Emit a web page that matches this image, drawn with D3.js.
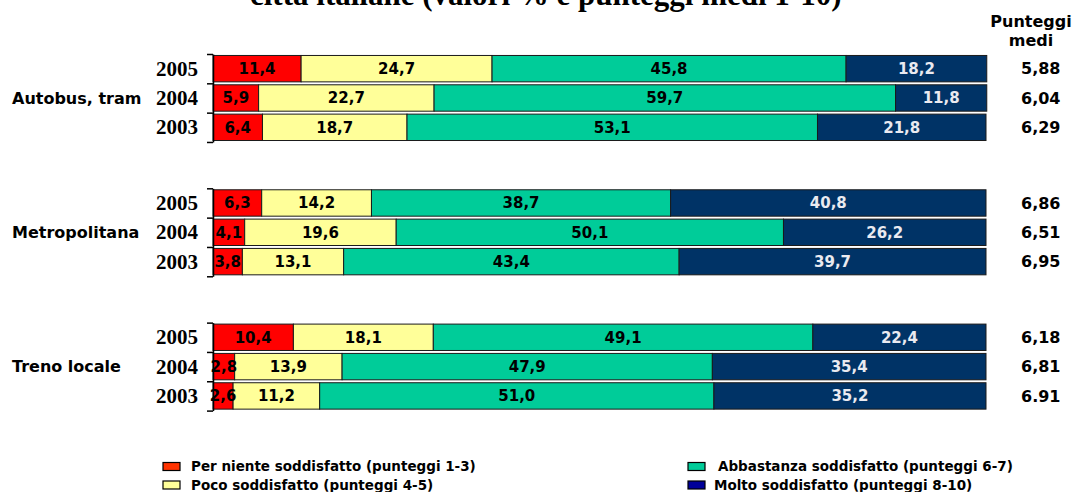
<!DOCTYPE html>
<html>
<head>
<meta charset="utf-8">
<script src="https://cdn.jsdelivr.net/npm/d3@7"></script>
<style>
  html, body { margin: 0; padding: 0; background: #fff; }
  svg { display: block; }
</style>
</head>
<body>
<svg id="chart" width="1074" height="492"></svg>
<script>
// ---- data ----
const titleText = "città italiane (valori % e punteggi medi 1-10)";
const groups = ["Autobus, tram", "Metropolitana", "Treno locale"];
const years = ["2005", "2004", "2003"];
const perNiente   = [11.4, 5.9, 6.4,  6.3, 4.1, 3.8,  10.4, 2.8, 2.6];
const poco        = [24.7, 22.7, 18.7, 14.2, 19.6, 13.1, 18.1, 13.9, 11.2];
const abbastanza  = [45.8, 59.7, 53.1, 38.7, 50.1, 43.4, 49.1, 47.9, 51.0];
const molto       = [18.2, 11.8, 21.8, 40.8, 26.2, 39.7, 22.4, 35.4, 35.2];
const scoreLabels = ["5,88", "6,04", "6,29", "6,86", "6,51", "6,95", "6,18", "6,81", "6.91"];
const seriesKeys  = ["perNiente", "poco", "abbastanza", "molto"];
const legendLabels = [
  "Per niente soddisfatto (punteggi 1-3)",
  "Poco soddisfatto (punteggi 4-5)",
  "Abbastanza soddisfatto (punteggi 6-7)",
  "Molto soddisfatto (punteggi 8-10)"
];
const scoreHeader = ["Punteggi", "medi"];

// ---- styles ----
const barColors    = {perNiente: "#ff0000", poco: "#ffff99", abbastanza: "#00cc99", molto: "#003366"};
const legendColors = {perNiente: "#ff3300", poco: "#ffff99", abbastanza: "#00cc99", molto: "#000099"};
const labelColors  = {perNiente: "#000", poco: "#000", abbastanza: "#000", molto: "#eaeaf0"};
const sans = "'DejaVu Sans', Verdana, sans-serif";
const serif = "'Liberation Serif', 'Times New Roman', serif";

// rows
const rows = [];
groups.forEach((g, gi) => years.forEach((y, yi) => {
  const i = gi * 3 + yi;
  rows.push({group: g, year: y, perNiente: perNiente[i], poco: poco[i],
             abbastanza: abbastanza[i], molto: molto[i], score: scoreLabels[i]});
}));

const svg = d3.select("#chart");

const x = d3.scaleLinear().domain([0, 100]).range([213, 986]);
const yGroup = d3.scaleBand().domain(groups).range([54, 410.6]).paddingInner(0.345).paddingOuter(0);
const yYear = d3.scaleBand().domain(years).range([0, yGroup.bandwidth()]).paddingInner(0.1).paddingOuter(0.05);
const rowY = d => yGroup(d.group) + yYear(d.year);
const rowC = d => rowY(d) + yYear.bandwidth() / 2;

// title (only its lower part is visible in the frame, as in the reference)
svg.append("text")
  .attr("x", 250).attr("y", 5)
  .attr("font-family", serif).attr("font-weight", "bold").attr("font-size", 31)
  .attr("fill", "#000")
  .text(titleText);

// stacked bars
const stack = d3.stack().keys(seriesKeys);
const stacked = stack(rows);

const layers = svg.append("g").selectAll("g").data(stacked).join("g")
  .attr("fill", s => barColors[s.key]);

layers.selectAll("rect").data(s => s.map(p => ({p, key: s.key}))).join("rect")
  .attr("x", d => x(d.p[0]))
  .attr("width", d => x(d.p[1]) - x(d.p[0]))
  .attr("y", d => rowY(d.p.data))
  .attr("height", yYear.bandwidth())
  .attr("stroke", "#1a1a1a").attr("stroke-width", 1);

// value labels
const fmt = v => d3.format(".1f")(v).replace(".", ",");
svg.append("g").selectAll("g").data(stacked).join("g")
  .selectAll("text").data(s => s.map(p => ({p, key: s.key}))).join("text")
  .attr("x", d => (x(d.p[0]) + x(d.p[1])) / 2)
  .attr("y", d => rowC(d.p.data))
  .attr("dy", "0.36em")
  .attr("text-anchor", "middle")
  .attr("font-family", sans).attr("font-weight", "bold").attr("font-size", 15)
  .attr("fill", d => labelColors[d.key])
  .text(d => fmt(d.p[1] - d.p[0]));

// group axes (bracket with ticks)
groups.forEach(g => {
  const ax = d3.axisLeft(
      d3.scaleLinear().domain([0, 3]).range([yGroup(g), yGroup(g) + yGroup.bandwidth()]))
    .tickValues([0, 1, 2, 3]).tickSize(6).tickSizeOuter(0).tickFormat("");
  const gg = svg.append("g").attr("transform", `translate(${x(0)},0)`).call(ax);
  gg.selectAll("path, line").attr("stroke", "#000").attr("stroke-width", 1.5);
});

// year labels
svg.append("g").selectAll("text").data(rows).join("text")
  .attr("x", 198).attr("y", d => rowC(d)).attr("dy", "0.34em")
  .attr("text-anchor", "end")
  .attr("font-family", serif).attr("font-weight", "bold").attr("font-size", 21)
  .attr("fill", "#000")
  .text(d => d.year);

// group labels
svg.append("g").selectAll("text").data(groups).join("text")
  .attr("x", 12)
  .attr("y", g => yGroup(g) + yYear("2004") + yYear.bandwidth() / 2)
  .attr("dy", "0.36em")
  .attr("font-family", sans).attr("font-weight", "bold").attr("font-size", 16)
  .attr("fill", "#000")
  .text(g => g);

// score header
svg.append("g").selectAll("text").data(scoreHeader).join("text")
  .attr("x", 1031).attr("y", (d, i) => 27 + i * 18.5)
  .attr("text-anchor", "middle")
  .attr("font-family", sans).attr("font-weight", "bold").attr("font-size", 16)
  .attr("fill", "#000")
  .text(d => d);

// scores
svg.append("g").selectAll("text").data(rows).join("text")
  .attr("x", 1021).attr("y", d => rowC(d)).attr("dy", "0.36em")
  .attr("font-family", sans).attr("font-weight", "bold").attr("font-size", 16)
  .attr("fill", "#000")
  .text(d => d.score);

// legend
const legendPos = [
  {sx: 163, tx: 191, y: 466.5},
  {sx: 163, tx: 191, y: 485},
  {sx: 688, tx: 718, y: 466.5},
  {sx: 688, tx: 714, y: 485}
];
const leg = svg.append("g").selectAll("g").data(seriesKeys).join("g");
leg.append("rect")
  .attr("x", (k, i) => legendPos[i].sx).attr("y", (k, i) => legendPos[i].y - 4)
  .attr("width", 17).attr("height", 8)
  .attr("fill", k => legendColors[k]).attr("stroke", "#000").attr("stroke-width", 1.2);
leg.append("text")
  .attr("x", (k, i) => legendPos[i].tx).attr("y", (k, i) => legendPos[i].y).attr("dy", "0.36em")
  .attr("font-family", sans).attr("font-weight", "bold").attr("font-size", 13.5)
  .attr("fill", "#000")
  .text((k, i) => legendLabels[i]);
</script>
</body>
</html>
